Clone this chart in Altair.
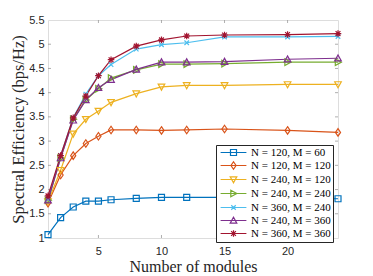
import altair as alt
import pandas as pd

# ---------------- data ----------------
modules = [1, 2, 3, 4, 5, 6, 8, 10, 12, 15, 20, 24]

series_names = [
    "N = 120, M = 60",
    "N = 120, M = 120",
    "N = 240, M = 120",
    "N = 240, M = 240",
    "N = 360, M = 240",
    "N = 240, M = 360",
    "N = 360, M = 360",
]

se_120_60 = [1.07, 1.42, 1.64, 1.76, 1.76, 1.79, 1.82, 1.84, 1.84, 1.84, 1.83, 1.81]
se_120_120 = [1.72, 2.30, 2.70, 2.95, 3.10, 3.23, 3.23, 3.22, 3.23, 3.25, 3.22, 3.18]
se_240_120 = [1.75, 2.40, 3.15, 3.45, 3.62, 3.80, 3.98, 4.12, 4.15, 4.15, 4.17, 4.17]
se_240_240 = [1.78, 2.65, 3.45, 3.85, 4.08, 4.30, 4.47, 4.59, 4.59, 4.60, 4.63, 4.63]
se_360_240 = [1.80, 2.70, 3.48, 3.97, 4.35, 4.58, 4.90, 4.99, 5.03, 5.15, 5.15, 5.16]
se_240_360 = [1.78, 2.65, 3.43, 3.85, 4.10, 4.27, 4.48, 4.63, 4.63, 4.64, 4.69, 4.71]
se_360_360 = [1.87, 2.70, 3.48, 3.93, 4.35, 4.68, 4.96, 5.09, 5.17, 5.19, 5.20, 5.22]

all_series = [se_120_60, se_120_120, se_240_120, se_240_240, se_360_240, se_240_360, se_360_360]

x_ticks = [5, 10, 15, 20]
y_ticks = [1.5, 2, 2.5, 3, 3.5, 4, 4.5, 5]

colors = ["#0072BD", "#D95319", "#EDB120", "#77AC30", "#4DBEEE", "#7E2F8E", "#A2142F"]

marker_paths = [
    "M-1,-1L1,-1L1,1L-1,1Z",
    "M0,-1.25L0.85,0L0,1.25L-0.85,0Z",
    "M-1.1,-0.9L1.1,-0.9L0,1.1Z",
    "M-0.9,-1.1L1.1,0L-0.9,1.1Z",
    "M-0.75,-0.75L0.75,0.75M-0.75,0.75L0.75,-0.75",
    "M-1.1,0.9L1.1,0.9L0,-1.1Z",
    "M0,-1.1L0,1.1M-1.1,0L1.1,0M-0.8,-0.8L0.8,0.8M-0.8,0.8L0.8,-0.8",
]
legend_paths = ["M-4.3,0L4.3,0" + p for p in marker_paths]

# ---------------- table ----------------
rows = []
for name, vals in zip(series_names, all_series):
    for m, v in zip(modules, vals):
        rows.append({"x": m, "y": v, "series": name})
df = pd.DataFrame(rows)

W, H = 290, 218
FRAME = "#9a9a9a"
TXT = "#262626"

x_axis = alt.Axis(title="Number of modules", values=x_ticks, domain=False, ticks=False,
                  grid=False, labelFont="Liberation Sans", labelFontSize=11, labelColor=TXT,
                  labelPadding=7, titleFont="Liberation Serif", titleFontSize=16,
                  titleFontWeight="normal", titleColor=TXT, titlePadding=2)
y_axis = alt.Axis(title="Spectral Efficiency (bps/Hz)", values=[1] + y_ticks + [5.5],
                  format=".1~f", domain=False, ticks=False, grid=False,
                  labelFont="Liberation Sans", labelFontSize=11, labelColor=TXT,
                  labelPadding=4, titleFont="Liberation Serif", titleFontSize=16.5,
                  titleFontWeight="normal", titleColor=TXT, titlePadding=2)
xs = alt.Scale(domain=[1, 24], nice=False, zero=False)
ys = alt.Scale(domain=[1, 5.5], nice=False, zero=False)


def X(f):
    return alt.X(f, scale=xs, axis=x_axis)


def Y(f):
    return alt.Y(f, scale=ys, axis=y_axis)


cscale = alt.Scale(domain=series_names, range=colors)

base = alt.Chart(df)

lines = base.mark_line(strokeWidth=1.2).encode(
    x=X("x:Q"), y=Y("y:Q"),
    color=alt.Color("series:N", scale=cscale, legend=None),
    order=alt.Order("x:Q"),
)

points = base.mark_point(filled=False, size=36, strokeWidth=1.2, opacity=1).encode(
    x=X("x:Q"), y=Y("y:Q"),
    color=alt.Color("series:N", scale=cscale, legend=None),
    shape=alt.Shape("series:N", scale=alt.Scale(domain=series_names, range=marker_paths), legend=None),
)

leg = alt.Legend(title=None, orient="none", legendX=168, legendY=125,
                 strokeColor=TXT, fillColor="white", padding=2, rowPadding=1,
                 symbolSize=36, symbolStrokeWidth=1.2, symbolOffset=10, labelOffset=12,
                 labelFont="Liberation Serif", labelFontSize=11, labelColor="#000")

legend_layer = base.transform_filter("false").mark_point(filled=False, strokeWidth=1.2, opacity=1).encode(
    x=X("x:Q"), y=Y("y:Q"),
    color=alt.Color("series:N", scale=cscale, legend=leg),
    shape=alt.Shape("series:N", scale=alt.Scale(domain=series_names, range=legend_paths), legend=leg),
)

xt = pd.DataFrame({"t": x_ticks})
yt = pd.DataFrame({"t": y_ticks})
tick_style = dict(color=FRAME, strokeWidth=0.8)
tb = alt.Chart(xt).mark_rule(**tick_style).encode(x=X("t:Q"), y=alt.value(H), y2=alt.value(H - 3))
tt = alt.Chart(xt).mark_rule(**tick_style).encode(x=X("t:Q"), y=alt.value(0), y2=alt.value(3))
tl = alt.Chart(yt).mark_rule(**tick_style).encode(y=Y("t:Q"), x=alt.value(0), x2=alt.value(3))
tr = alt.Chart(yt).mark_rule(**tick_style).encode(y=Y("t:Q"), x=alt.value(W), x2=alt.value(W - 3))

chart = alt.layer(tb, tt, tl, tr, lines, points, legend_layer).resolve_scale(
    color="independent", shape="independent"
).resolve_legend(color="independent", shape="independent").properties(
    width=W, height=H,
    autosize=alt.AutoSizeParams(type="none"),
    padding={"left": 40, "top": 12, "right": 27, "bottom": 40},
).configure_view(stroke=FRAME, strokeWidth=1).configure(background="white")

chart.save("out.html", embed_options={"renderer": "svg", "actions": False})
